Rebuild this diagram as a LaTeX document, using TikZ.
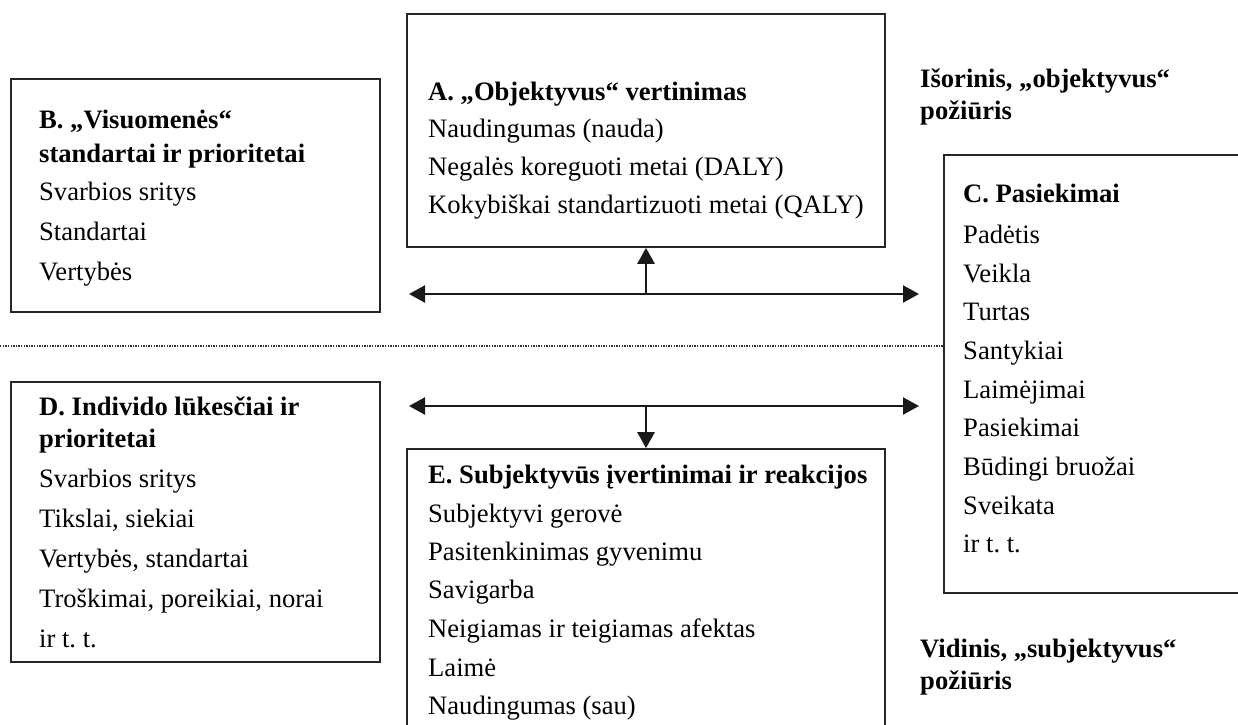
\documentclass[tikz,border=0pt]{standalone}
\usepackage{fontspec}
\setmainfont{Liberation Serif}
\usetikzlibrary{arrows.meta}
\frenchspacing
\begin{document}
\begin{tikzpicture}[x=1pt,y=-1pt,
  box/.style={draw=black!85, line width=1.6pt, inner sep=0pt, rectangle},
  ln/.style={anchor=base west, inner sep=0pt, font=\fontsize{26.6}{30}\selectfont},
  hd/.style={anchor=base west, inner sep=0pt, font=\fontsize{26.6}{30}\selectfont\bfseries},
  conn/.style={line width=2.4pt, draw=black!90},
  tip/.style={-{Triangle[length=16pt,width=17pt]}},
  dtip/.style={{Triangle[length=16pt,width=17pt]}-{Triangle[length=16pt,width=17pt]}},
  sep/.style={line width=1.2pt, dash pattern=on 1.3pt off 1.3pt, draw=black!80}
]
\useasboundingbox (0,0) rectangle (1238,724);
\clip (0,0) rectangle (1238,724);

% boxes
\node[box, minimum width=369pt, minimum height=233pt] (B) at (195.5,195.5) {};
\node[box, minimum width=478pt, minimum height=233pt] (A) at (646,130.5) {};
\node[box, minimum width=330pt, minimum height=438pt] (C) at (1109,374) {};
\node[box, minimum width=369pt, minimum height=280pt] (D) at (195.5,522) {};
\node[box, minimum width=478pt, minimum height=300pt] (E) at (646,599) {};

% B text
\node[hd] (b0) at (39,128) {B. „Visuomenės“};
\node[hd] (b1) at (39,162) {standartai ir prioritetai};
\node[ln] (b2) at (39,200) {Svarbios sritys};
\node[ln] (b3) at (39,240) {Standartai};
\node[ln] (b4) at (39,280) {Vertybės};

% A text
\node[hd] (a0) at (428,100) {A. „Objektyvus“ vertinimas};
\node[ln] (a1) at (428,137) {Naudingumas (nauda)};
\node[ln] (a2) at (428,175) {Negalės koreguoti metai (DALY)};
\node[ln] (a3) at (428,213) {Kokybiškai standartizuoti metai (QALY)};

% C text
\node[hd] (c0) at (963,202) {C. Pasiekimai};
\node[ln] (c1) at (963,243) {Padėtis};
\node[ln] (c2) at (963,282) {Veikla};
\node[ln] (c3) at (963,320) {Turtas};
\node[ln] (c4) at (963,359) {Santykiai};
\node[ln] (c5) at (963,398) {Laimėjimai};
\node[ln] (c6) at (963,436) {Pasiekimai};
\node[ln] (c7) at (963,475) {Būdingi bruožai};
\node[ln] (c8) at (963,514) {Sveikata};
\node[ln] (c9) at (963,552) {ir t. t.};

% D text
\node[hd] (d0) at (39,415) {D. Individo lūkesčiai ir};
\node[hd] (d1) at (39,447) {prioritetai};
\node[ln] (d2) at (39,487) {Svarbios sritys};
\node[ln] (d3) at (39,527) {Tikslai, siekiai};
\node[ln] (d4) at (39,567) {Vertybės, standartai};
\node[ln] (d5) at (39,607) {Troškimai, poreikiai, norai};
\node[ln] (d6) at (39,647) {ir t. t.};

% E text
\node[hd] (e0) at (428,483) {E. Subjektyvūs įvertinimai ir reakcijos};
\node[ln] (e1) at (428,522) {Subjektyvi gerovė};
\node[ln] (e2) at (428,560) {Pasitenkinimas gyvenimu};
\node[ln] (e3) at (428,598) {Savigarba};
\node[ln] (e4) at (428,637) {Neigiamas ir teigiamas afektas};
\node[ln] (e5) at (428,676) {Laimė};
\node[ln] (e6) at (428,714) {Naudingumas (sau)};

% side labels
\node[hd] (o0) at (920,87) {Išorinis, „objektyvus“};
\node[hd] (o1) at (920,119) {požiūris};
\node[hd] (s0) at (920,657) {Vidinis, „subjektyvus“};
\node[hd] (s1) at (920,689) {požiūris};

% connectors
\coordinate (u1) at (409,294);
\coordinate (u2) at (919,294);
\coordinate (l1) at (409,406);
\coordinate (l2) at (919,406);
\coordinate (s) at (-5,346);
\draw[conn, dtip] (u1) -- (u2);
\draw[conn, tip] (A.south |- u1) -- (A.south);
\draw[conn, dtip] (l1) -- (l2);
\draw[conn, tip] (E.north |- l1) -- (E.north);
\draw[sep] (s) -- (C.west |- s);
\end{tikzpicture}
\end{document}
